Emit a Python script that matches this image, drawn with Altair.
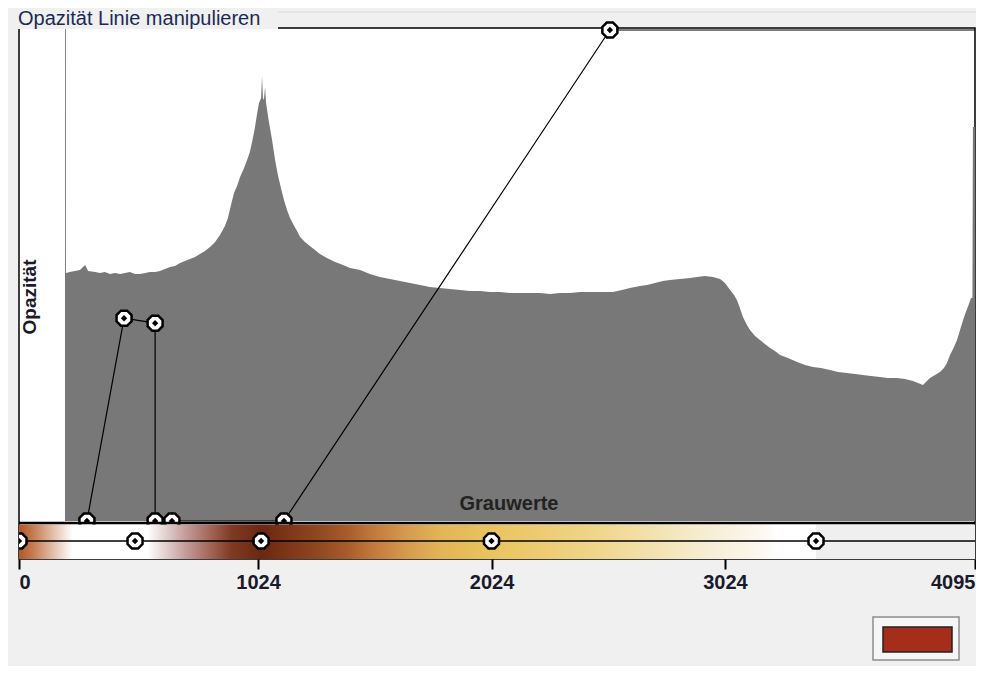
import altair as alt
import pandas as pd

GMAX = 4095
W, H = 956, 531

# ---- histogram of grey values (counts in arbitrary units) ----
hist_gray = [197, 199, 201, 218, 240, 261, 283, 296, 326, 347, 368, 390, 411, 433, 454, 475, 497, 518,
             540, 561, 583, 604, 625, 647, 668, 690, 711, 732, 754, 775, 797, 818, 840, 861, 882, 895,
             908, 921, 934, 947, 964, 977, 989, 1002, 1011, 1019, 1028, 1037, 1041, 1045, 1049, 1054,
             1058, 1067, 1075, 1084, 1097, 1109, 1122, 1135, 1148, 1161, 1174, 1191, 1204, 1225, 1246,
             1268, 1289, 1319, 1354, 1388, 1418, 1461, 1503, 1546, 1589, 1632, 1675, 1718, 1760, 1803,
             1846, 1889, 1932, 1975, 2017, 2060, 2103, 2146, 2189, 2232, 2275, 2317, 2360, 2403, 2446,
             2489, 2544, 2583, 2617, 2660, 2690, 2724, 2758, 2789, 2831, 2874, 2904, 2938, 2973, 3003,
             3024, 3046, 3063, 3075, 3088, 3101, 3118, 3131, 3153, 3174, 3195, 3217, 3238, 3260, 3294,
             3333, 3367, 3401, 3435, 3474, 3508, 3547, 3581, 3615, 3649, 3688, 3722, 3761, 3795, 3829,
             3851, 3872, 3889, 3902, 3924, 3945, 3962, 3975, 3988, 4005, 4018, 4031, 4044, 4056, 4069,
             4078, 4084, 4086, 4095]
hist_count = [2000, 2000, 248, 249, 250, 251, 256, 250, 249, 248, 249, 247, 248, 247, 248, 249, 247, 247,
              248, 249, 249, 250, 252, 254, 255, 258, 260, 262, 264, 267, 270, 274, 279, 286, 295, 303,
              316, 328, 335, 344, 353, 361, 369, 383, 394, 406, 418, 423, 445, 423, 421, 434,
              419, 404, 393, 381, 361, 346, 333, 321, 311, 303, 297, 290, 284, 279, 275,
              271, 267, 263, 259, 256, 253, 251, 247, 244, 242, 240, 238, 236, 234, 233,
              232, 231, 230, 230, 229, 229, 228, 228, 228, 228, 227, 228, 228, 229, 229,
              229, 229, 231, 233, 235, 236, 238, 240, 241, 242, 243, 244, 245, 244, 242,
              238, 231, 226, 221, 213, 204, 196, 191, 185, 181, 177, 173, 170, 166, 163,
              159, 156, 154, 153, 151, 149, 148, 147, 146, 145, 144, 143, 143, 142, 140,
              138, 136, 140, 143, 146, 149, 153, 158, 166, 174, 181, 191, 201, 209, 217,
              223, 223, 394, 394]

# ---- opacity transfer line ----
op_gray = [291, 450, 583, 583, 655, 1135, 2531, 4095]
op_value = [0.0, 0.413, 0.403, 0.0, 0.0, 0.0, 1.0, 1.0]
op_has_node = [True, True, True, True, True, True, True, False]

# ---- colour transfer bar ----
col_node_gray = [0, 497, 1037, 2024, 3414]
grad_gray = [0, 60, 230, 550, 700, 810, 910, 1037, 1130, 1270, 1400, 1520, 1660, 1800, 2024,
             2230, 2520, 2790, 2960, 3170, 3250, 3414, 3416, 4095]
grad_color = ["#b0562a", "#c47c52", "#ffffff", "#ffffff", "#c8a4a2", "#a66a5e", "#803a22", "#6a2810",
              "#7a3316", "#8e4620", "#a85a2a", "#c27a3c", "#d69a4e", "#e2b456", "#eac460", "#edcb72",
              "#f0d890", "#f4e6bc", "#f7eed6", "#fcf7ee", "#ffffff", "#ffffff", "#efefef", "#efefef"]

tick_values = [0, 1024, 2024, 3024, 4095]
title_text = "Opazität Linie manipulieren"
y_label = "Opazität"
x_label = "Grauwerte"

FONT = "Liberation Sans"
OCTAGON = "M-0.414,-1L0.414,-1L1,-0.414L1,0.414L0.414,1L-0.414,1L-1,0.414L-1,-0.414Z"

hist_df = pd.DataFrame({"g": hist_gray, "count": hist_count, "base": 0})
op_df = pd.DataFrame({"g": op_gray, "op": op_value, "node": op_has_node, "i": range(len(op_gray))})
node_df = op_df[op_df["node"]]
col_df = pd.DataFrame({"g": col_node_gray})
bar_df = pd.DataFrame({"g0": [0], "g1": [GMAX]})
one = pd.DataFrame({"a": [0]})

xscale = alt.Scale(domain=[0, GMAX], nice=False, zero=False)
xaxis = alt.Axis(values=tick_values, title=None, grid=False, domain=False, labelFlush=True,
                 tickSize=10, tickWidth=2, tickColor="black", labelFont=FONT, labelFontSize=20,
                 labelFontWeight="bold", labelColor="#1a1a2a", labelPadding=3, format="d")


def X(field):
    return alt.X(field, type="quantitative", scale=xscale, axis=xaxis)


op_scale = alt.Scale(domain=[-0.07739, 1.004073], nice=False, zero=False)

hist = alt.Chart(hist_df).mark_area(color="#787878", clip=True).encode(
    x=X("g"),
    y=alt.Y("count:Q", scale=alt.Scale(domain=[-38, 493], nice=False, zero=False), axis=None),
    y2="base:Q",
)

op_line = alt.Chart(op_df).mark_line(color="black", strokeWidth=1.2).encode(
    x=X("g"), y=alt.Y("op:Q", scale=op_scale, axis=None), order="i:Q"
)
op_nodes = alt.Chart(node_df).mark_point(shape=OCTAGON, size=225, filled=True, fill="white",
                                         stroke="black", strokeWidth=2.5, opacity=1).encode(
    x=X("g"), y=alt.Y("op:Q", scale=op_scale, axis=None)
)
op_dots = alt.Chart(node_df).mark_point(shape="diamond", size=40, filled=True, color="black", opacity=1).encode(
    x=X("g"), y=alt.Y("op:Q", scale=op_scale, axis=None)
)

grad = alt.Gradient(
    gradient="linear", x1=0, x2=1, y1=0, y2=0,
    stops=[alt.GradientStop(offset=g / GMAX, color=c) for g, c in zip(grad_gray, grad_color)],
)
bar = alt.Chart(bar_df).mark_rect(fill=grad).encode(
    x=X("g0"), x2="g1:Q", y=alt.value(496.5), y2=alt.value(H)
)
bar_top = alt.Chart(bar_df).mark_rule(color="black", strokeWidth=2.5).encode(
    x=X("g0"), x2="g1:Q", y=alt.value(495)
)
bar_mid = alt.Chart(bar_df).mark_rule(color="black", strokeWidth=1.5).encode(
    x=X("g0"), x2="g1:Q", y=alt.value(513)
)
col_nodes = alt.Chart(col_df).mark_point(shape=OCTAGON, size=225, filled=True, fill="white",
                                         stroke="black", strokeWidth=2.5, opacity=1, clip=True).encode(
    x=X("g"), y=alt.value(513)
)
col_dots = alt.Chart(col_df).mark_point(shape="diamond", size=40, filled=True, color="black",
                                        opacity=1, clip=True).encode(
    x=X("g"), y=alt.value(513)
)

title_bg = alt.Chart(one).mark_rect(fill="#f0f0f0").encode(
    x=alt.value(-5), x2=alt.value(259), y=alt.value(-22), y2=alt.value(1)
)
frame_top = alt.Chart(one).mark_rule(color="#d6dbe2", strokeWidth=1).encode(
    x=alt.value(259), x2=alt.value(W + 1), y=alt.value(-16)
)
title = alt.Chart(one).mark_text(text=title_text, align="left", baseline="alphabetic", font=FONT,
                                 fontSize=20, color="#1b2a55").encode(x=alt.value(-1), y=alt.value(-3))
ylab = alt.Chart(one).mark_text(text=y_label, angle=270, align="center", baseline="middle", font=FONT,
                                fontSize=19, fontWeight="bold", color="#1a1a2a").encode(
    x=alt.value(11), y=alt.value(269))
xlab = alt.Chart(one).mark_text(text=x_label, align="center", baseline="alphabetic", font=FONT,
                                fontSize=20, fontWeight="bold", color="#222222").encode(
    x=alt.value(490), y=alt.value(482))

sw_outer = alt.Chart(one).mark_rect(fill="#f6f6f6", stroke="#8c8c8c", strokeWidth=1.5).encode(
    x=alt.value(854), x2=alt.value(940), y=alt.value(589), y2=alt.value(632))
sw_inner = alt.Chart(one).mark_rect(fill="#a52d1a", stroke="#222222", strokeWidth=1.5).encode(
    x=alt.value(864), x2=alt.value(933), y=alt.value(599), y2=alt.value(624))

chart = alt.layer(
    hist, op_line, op_nodes, op_dots, bar, bar_top, bar_mid, col_nodes, col_dots,
    title_bg, frame_top, title, ylab, xlab, sw_outer, sw_inner
).resolve_scale(y="independent").properties(
    width=W, height=H,
    padding={"left": 11, "top": 20, "right": 1, "bottom": 107},
    autosize=alt.AutoSizeParams(type="none"),
    background="#f0f0f0",
).configure_view(stroke="black", strokeWidth=1.5, fill="white")

chart.save("out.html", embed_options={"renderer": "svg", "actions": False})
